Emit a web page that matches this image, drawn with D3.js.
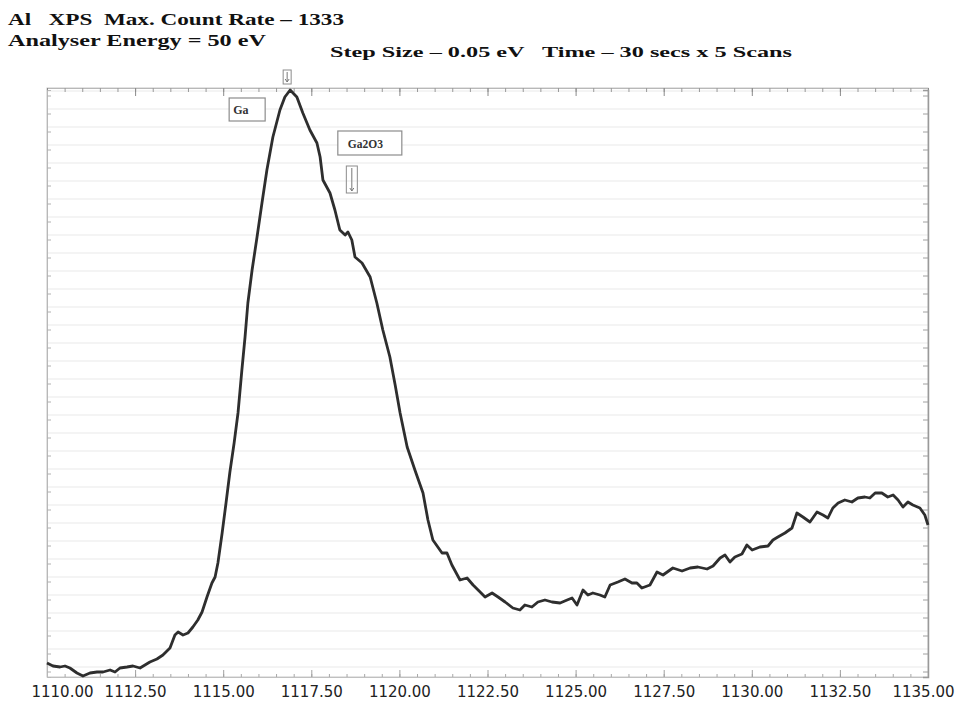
<!DOCTYPE html>
<html>
<head>
<meta charset="utf-8">
<script src="https://cdn.jsdelivr.net/npm/d3@7"></script>
<style>
  html, body { margin: 0; padding: 0; background: #ffffff; }
  svg { display: block; }
</style>
</head>
<body>
<svg id="chart" width="965" height="706"></svg>
<script>
// ---- Data (binding energy in eV, counts) ----
const energy = [
  1110.00,1110.17,1110.37,1110.51,1110.65,1110.85,1111.02,1111.22,1111.42,1111.59,
  1111.79,1111.93,1112.07,1112.27,1112.44,1112.64,1112.78,1112.92,1113.12,1113.29,
  1113.49,1113.63,1113.72,1113.86,1114.00,1114.14,1114.28,1114.40,1114.54,1114.68,
  1114.77,1114.85,1114.97,1115.08,1115.19,1115.31,1115.42,1115.53,1115.62,1115.70,
  1115.82,1115.96,1116.10,1116.24,1116.41,1116.61,1116.75,1116.90,1117.09,1117.26,
  1117.46,1117.66,1117.75,1117.83,1118.03,1118.17,1118.31,1118.46,1118.54,1118.65,
  1118.74,1118.94,1119.17,1119.36,1119.53,1119.73,1119.88,1120.02,1120.22,1120.44,
  1120.67,1120.81,1120.95,1121.21,1121.35,1121.49,1121.72,1121.92,1122.09,1122.29,
  1122.43,1122.63,1122.80,1123.00,1123.22,1123.42,1123.56,1123.76,1123.93,1124.13,
  1124.33,1124.56,1124.76,1124.90,1125.04,1125.21,1125.35,1125.49,1125.69,1125.83,
  1125.98,1126.20,1126.40,1126.60,1126.74,1126.88,1127.11,1127.31,1127.48,1127.76,
  1128.02,1128.25,1128.47,1128.73,1128.90,1129.10,1129.24,1129.38,1129.52,1129.72,
  1129.86,1130.01,1130.23,1130.46,1130.60,1130.74,1130.94,1131.14,1131.28,1131.45,
  1131.65,1131.85,1132.02,1132.16,1132.30,1132.45,1132.64,1132.84,1133.01,1133.21,
  1133.35,1133.50,1133.69,1133.86,1134.01,1134.15,1134.29,1134.43,1134.57,1134.77,
  1134.91,1135.00
];
const counts = [
  187,181,179,181,177,167,161,167,169,169,
  173,169,177,179,181,177,183,189,195,203,
  217,243,249,243,247,259,273,289,319,347,
  359,387,447,507,569,627,687,773,839,907,
  973,1039,1107,1173,1239,1293,1319,1333,1319,1287,
  1253,1227,1199,1153,1127,1093,1053,1043,1049,1033,
  999,987,959,907,853,799,743,687,619,573,
  527,473,433,407,407,383,353,357,343,329,
  319,327,319,309,297,293,303,299,309,313,
  309,307,313,317,303,333,323,327,323,319,
  343,349,355,347,347,337,343,369,363,377,
  371,377,379,375,381,397,403,389,399,405,
  423,413,419,421,433,439,447,457,487,479,
  469,489,483,477,497,507,513,509,517,519,
  517,527,527,519,523,513,499,509,503,497,
  483,463
];
const xTicks = [1110, 1112.5, 1115, 1117.5, 1120, 1122.5, 1125, 1127.5, 1130, 1132.5, 1135];
const titleLine1 = "Al   XPS  Max. Count Rate \u2013 1333";
const titleLine2 = "Analyser Energy = 50 eV";
const titleLine3 = "Step Size \u2013 0.05 eV   Time \u2013 30 secs x 5 Scans";
const peakLabels = ["Ga", "Ga2O3"];
const peakEnergies = [1116.90, 1118.65];
const maxCount = 1333;

// ---- Layout ----
const svg = d3.select("#chart");
const pLeft = 47, pRight = 928, pTop = 90, pBottom = 677;

const x = d3.scaleLinear().domain([1110, 1135]).range([pLeft, pRight]);
const y = d3.scaleLinear().domain([159, maxCount]).range([pBottom, pTop]);

// faint horizontal bands (scan look)
const bandVals = d3.range(180, 1333, 36);
svg.append("g")
  .attr("transform", `translate(${pLeft},0)`)
  .call(d3.axisLeft(y).tickValues(bandVals).tickSize(-(pRight - pLeft)).tickFormat(""))
  .call(g => g.select(".domain").remove())
  .call(g => g.selectAll("line").attr("stroke", "#f4f4f4").attr("stroke-width", 2));

// frame
svg.append("rect")
  .attr("x", pLeft).attr("y", pTop - 2)
  .attr("width", pRight - pLeft).attr("height", pBottom - pTop + 2)
  .attr("fill", "none").attr("stroke", "#c8c8c8").attr("stroke-width", 1);

// minor ticks
const minor = d3.range(1110, 1135.01, 0.5);
svg.append("g")
  .attr("transform", `translate(0,${pBottom})`)
  .call(d3.axisTop(x).tickValues(minor).tickSize(3).tickFormat(""))
  .call(g => g.select(".domain").attr("stroke", "#c0c0c0"))
  .call(g => g.selectAll("line").attr("stroke", "#a8a8a8"));
svg.append("g")
  .attr("transform", `translate(0,${pBottom})`)
  .call(d3.axisTop(x).tickValues(xTicks).tickSize(7).tickFormat(""))
  .call(g => g.select(".domain").remove())
  .call(g => g.selectAll("line").attr("stroke", "#a0a0a0"));
svg.append("g")
  .attr("transform", `translate(0,${pTop - 2})`)
  .call(d3.axisBottom(x).tickValues(minor).tickSize(4).tickFormat(""))
  .call(g => g.select(".domain").attr("stroke", "#b8b8b8"))
  .call(g => g.selectAll("line").attr("stroke", "#9a9a9a"));
svg.append("g")
  .attr("transform", `translate(0,${pTop - 2})`)
  .call(d3.axisBottom(x).tickValues(xTicks).tickSize(8).tickFormat(""))
  .call(g => g.select(".domain").remove())
  .call(g => g.selectAll("line").attr("stroke", "#8a8a8a"));
const yMinor = d3.range(170, 1333, 36);
svg.append("g")
  .attr("transform", `translate(${pLeft},0)`)
  .call(d3.axisRight(y).tickValues(yMinor).tickSize(4).tickFormat(""))
  .call(g => g.select(".domain").attr("stroke", "#b8b8b8"))
  .call(g => g.selectAll("line").attr("stroke", "#b0b0b0"));
svg.append("g")
  .attr("transform", `translate(${pRight},0)`)
  .call(d3.axisLeft(y).tickValues(yMinor).tickSize(5).tickFormat(""))
  .call(g => g.select(".domain").attr("stroke", "#9a9a9a").attr("stroke-width", 1.5))
  .call(g => g.selectAll("line").attr("stroke", "#a0a0a0"));

// x tick labels
const xLab = svg.append("g")
  .attr("transform", `translate(0,${pBottom})`)
  .call(d3.axisBottom(x).tickValues(xTicks).tickSize(0).tickPadding(9)
        .tickFormat(d3.format(".2f")));
xLab.select(".domain").remove();
xLab.selectAll("text")
  .attr("font-family", "'DejaVu Sans', sans-serif")
  .attr("font-size", 15)
  .attr("fill", "#222")
  .attr("dx", (d, i) => i === 0 ? 15 : (i === xTicks.length - 1 ? -5 : 0));

// spectrum line
const pts = energy.map((e, i) => [e, counts[i]]);
svg.append("path")
  .datum(pts)
  .attr("fill", "none")
  .attr("stroke", "#2e2e2e")
  .attr("stroke-width", 2.8)
  .attr("stroke-linejoin", "round")
  .attr("d", d3.line().x(d => x(d[0])).y(d => y(d[1])));

// peak annotations
const serif = "'Liberation Serif', 'DejaVu Serif', serif";
function marker(px, y0, y1, w) {
  svg.append("rect").attr("x", px - w / 2).attr("y", y0).attr("width", w).attr("height", y1 - y0)
    .attr("fill", "none").attr("stroke", "#8c8c8c").attr("stroke-width", 1);
  svg.append("line").attr("x1", px).attr("x2", px).attr("y1", y0 + 2).attr("y2", y1 - 2)
    .attr("stroke", "#777").attr("stroke-width", 1);
  svg.append("path").attr("d", `M${px - 2},${y1 - 5} L${px},${y1 - 2} L${px + 2},${y1 - 5}`)
    .attr("fill", "none").attr("stroke", "#777").attr("stroke-width", 1);
}
const gaX = x(peakEnergies[0]);
marker(gaX - 3, 70, 84, 8);
svg.append("rect").attr("x", gaX - 61).attr("y", 98).attr("width", 36).attr("height", 23)
  .attr("fill", "#fff").attr("stroke", "#8c8c8c").attr("stroke-width", 1.2);
svg.append("text").attr("x", gaX - 57).attr("y", 114).text(peakLabels[0])
  .attr("font-family", serif).attr("font-weight", "bold").attr("font-size", 12).attr("fill", "#333");
const oxX = x(peakEnergies[1]);
marker(oxX, 166, 193, 11);
svg.append("rect").attr("x", oxX - 14).attr("y", 131).attr("width", 64).attr("height", 24)
  .attr("fill", "#fff").attr("stroke", "#8c8c8c").attr("stroke-width", 1.2);
svg.append("text").attr("x", oxX - 4).attr("y", 148).text(peakLabels[1])
  .attr("font-family", serif).attr("font-weight", "bold").attr("font-size", 11.5).attr("fill", "#333");

// titles
svg.append("text").attr("x", 8).attr("y", 25).text(titleLine1)
  .attr("font-family", serif).attr("font-weight", "bold").attr("font-size", 16).attr("fill", "#111")
  .attr("textLength", 336).attr("lengthAdjust", "spacingAndGlyphs").style("white-space", "pre");
svg.append("text").attr("x", 8).attr("y", 46).text(titleLine2)
  .attr("font-family", serif).attr("font-weight", "bold").attr("font-size", 16).attr("fill", "#111")
  .attr("textLength", 258).attr("lengthAdjust", "spacingAndGlyphs");
svg.append("text").attr("x", 330).attr("y", 57).text(titleLine3)
  .attr("font-family", serif).attr("font-weight", "bold").attr("font-size", 15).attr("fill", "#111")
  .attr("textLength", 462).attr("lengthAdjust", "spacingAndGlyphs").style("white-space", "pre");
</script>
</body>
</html>
